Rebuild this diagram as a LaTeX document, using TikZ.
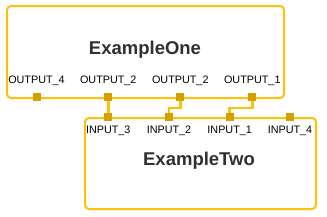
\documentclass[tikz,border=0pt]{standalone}
\usepackage{fontspec}
\setmainfont{Liberation Sans}
\usepackage{tikz}
\definecolor{amber}{HTML}{FFC107}
\definecolor{portgold}{HTML}{D4A000}
\definecolor{titlegray}{HTML}{303030}
\pgfdeclarelayer{wires}
\pgfsetlayers{wires,main}

\begin{document}
\begin{tikzpicture}[x=1pt, y=-1pt,
    block/.style={draw=amber, line width=2pt, rounded corners=4pt, anchor=north west},
    port/.style={rectangle, fill=portgold, minimum size=8pt, inner sep=0pt},
    plabel/.style={font=\fontsize{10.8}{12}\selectfont, inner sep=0pt},
    title/.style={font=\fontsize{18.5}{20}\selectfont\bfseries, text=titlegray},
    wire/.style={draw=amber, line width=2.6pt}]
    \useasboundingbox (0,0) rectangle (327,217);

    \node[block, minimum width=277pt, minimum height=92pt] (one) at (6,5) {};
    \node[title] (onetitle) at (145,50) {ExampleOne};

    \node[port] (o4) at (36.5,97) {};
    \node[plabel] at (36.5,81) {OUTPUT\_4};

    \node[port] (o2a) at (108.3,97) {};
    \node[plabel] at (108.3,81) {OUTPUT\_2};

    \node[port] (o2b) at (180.3,97) {};
    \node[plabel] at (180.3,81) {OUTPUT\_2};

    \node[port] (o1) at (252.3,97) {};
    \node[plabel] at (252.3,81) {OUTPUT\_1};

    \node[block, minimum width=231pt, minimum height=91pt] (two) at (84,117) {};
    \node[title] (twotitle) at (199,161) {ExampleTwo};

    \node[port] (i3) at (108.3,117) {};
    \node[plabel] at (108.3,131) {INPUT\_3};

    \node[port] (i2) at (169,117) {};
    \node[plabel] at (169,131) {INPUT\_2};

    \node[port] (i1) at (229.7,117) {};
    \node[plabel] at (229.7,131) {INPUT\_1};

    \node[port] (i4) at (290,117) {};
    \node[plabel] at (290,131) {INPUT\_4};

    \begin{pgfonlayer}{wires}
    \draw[wire] (o2a.center) -- (i3.center);
    \draw[wire] (o2b.center) -- ++(0,11) -| (i2.center);
    \draw[wire] (o1.center) -- ++(0,11) -| (i1.center);
    \end{pgfonlayer}
\end{tikzpicture}
\end{document}
